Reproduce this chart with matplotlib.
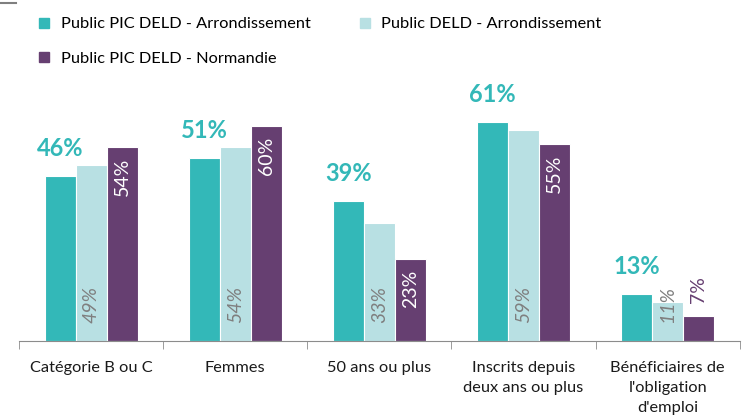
import numpy as np
import matplotlib.pyplot as plt
from matplotlib.lines import Line2D

categories = ["Catégorie B ou C", "Femmes", "50 ans ou plus",
              "Inscrits depuis\ndeux ans ou plus",
              "Bénéficiaires de\nl'obligation\nd'emploi"]
series = ["Public PIC DELD - Arrondissement", "Public DELD - Arrondissement",
          "Public PIC DELD - Normandie"]
pic_arr = [46, 51, 39, 61, 13]
deld_arr = [49, 54, 33, 59, 11]
pic_norm = [54, 60, 23, 55, 7]

colors = ["#33b8b8", "#b8e0e3", "#663f71"]

plt.rcParams['font.family'] = ['Lato', 'DejaVu Sans']

fig = plt.figure(figsize=(7.42, 4.17), dpi=100)
ax = fig.add_axes([0.0256, 0.182, 0.9714, 0.626])

x = np.arange(len(categories))
w = 0.215
for i, (vals, c) in enumerate(zip([pic_arr, deld_arr, pic_norm], colors)):
    ax.bar(x + (i - 1) * w, vals, w, color=c, edgecolor="white", linewidth=0.8,
           label=series[i])

# value labels
for xi, v in zip(x, pic_arr):
    ax.text(xi - w, v + 4.5, f"{v}%", ha="center", va="bottom",
            fontsize=17, fontweight="bold", color=colors[0])
for xi, v in zip(x, deld_arr):
    ax.text(xi, 5.0, f"{v}%", ha="center", va="bottom", rotation=90,
            fontsize=14, fontstyle="italic", color="#7f7f7f")
for xi, v in zip(x, pic_norm):
    if v > 15:
        ax.text(xi + w, v - 3, f"{v}%", ha="center", va="top", rotation=90,
                fontsize=14, color="white")
    else:
        ax.text(xi + w, v + 3.5, f"{v}%", ha="center", va="bottom", rotation=90,
                fontsize=14, color=colors[2])

ax.set_xlim(-0.5, len(categories) - 0.5)
ax.set_ylim(0, 72.8)
ax.set_yticks([])
for s in ["top", "right", "left"]:
    ax.spines[s].set_visible(False)
ax.spines["bottom"].set_color("#8c8c8c")
ax.set_xticks(x)
ax.set_xticklabels(categories, fontsize=11.8, color="#1a1a1a", linespacing=1.55)
ax.tick_params(axis="x", which="major", length=0, pad=14)
ax.set_xticks(np.arange(len(categories) + 1) - 0.5, minor=True)
ax.tick_params(axis="x", which="minor", length=6, color="#8c8c8c", direction="out")

# legend
handles = [Line2D([], [], marker="s", linestyle="", markersize=7, color=c) for c in colors]
fig.legend([handles[0], handles[1]], series[:2], loc="upper left",
           bbox_to_anchor=(0.018, 0.995), ncol=2, frameon=False, fontsize=11.8,
           handletextpad=0.0, columnspacing=2.3, borderaxespad=0.5)
fig.legend([handles[2]], series[2:], loc="upper left",
           bbox_to_anchor=(0.018, 0.912), frameon=False, fontsize=11.8,
           handletextpad=0.0, borderaxespad=0.5)

fig.add_artist(Line2D([0, 0.021], [0.993, 0.993], color="#7f7f7f", linewidth=1.5))

fig.savefig("out.png", dpi=100)
